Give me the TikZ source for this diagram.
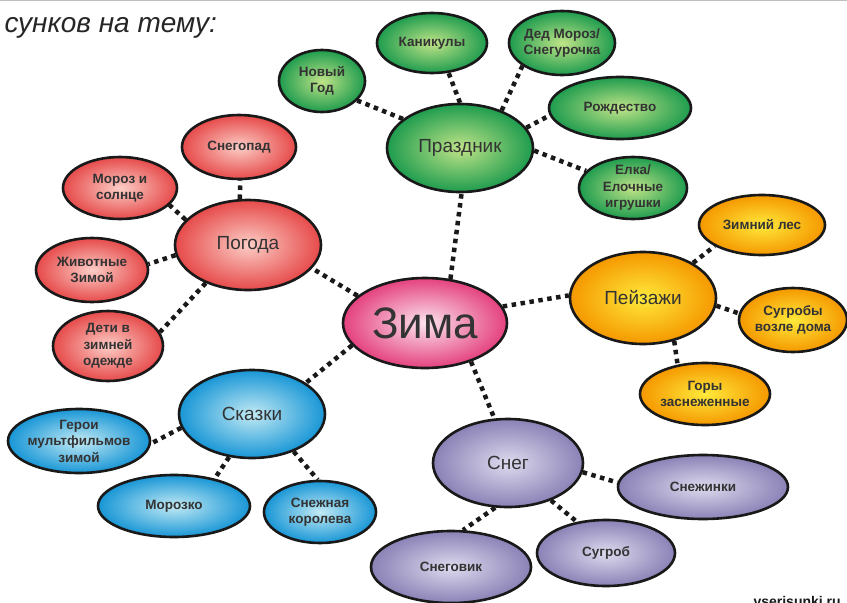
\documentclass[tikz,border=0pt]{standalone}
\usepackage{fontspec}
\setmainfont{Liberation Sans}
\usetikzlibrary{shapes.geometric}

\definecolor{zimaIn}{HTML}{FCE4EE}
\definecolor{zimaOut}{HTML}{E4417E}
\definecolor{holIn}{HTML}{C0E488}
\definecolor{holOut}{HTML}{1E9C4E}
\definecolor{wthIn}{HTML}{FCCDC6}
\definecolor{wthOut}{HTML}{E64A4A}
\definecolor{lndIn}{HTML}{FFE93A}
\definecolor{lndOut}{HTML}{F59800}
\definecolor{talIn}{HTML}{C2EAF4}
\definecolor{talOut}{HTML}{1896D6}
\definecolor{snwIn}{HTML}{DEDAEE}
\definecolor{snwOut}{HTML}{8A82B6}

\begin{document}
\begin{tikzpicture}[x=1pt,y=-1pt,
  bubble/.style={ellipse,draw=black!90,line width=2.6pt,inner sep=-12pt,
                 text=black!80,align=center,shade},
  hub/.style={bubble,font=\fontsize{19}{22}\selectfont},
  leaf/.style={bubble,font=\fontsize{13.5}{16.5}\selectfont\bfseries},
  winter/.style={inner color=zimaIn,outer color=zimaOut},
  holiday/.style={inner color=holIn,outer color=holOut},
  weather/.style={inner color=wthIn,outer color=wthOut},
  landscape/.style={inner color=lndIn,outer color=lndOut},
  tale/.style={inner color=talIn,outer color=talOut},
  snow/.style={inner color=snwIn,outer color=snwOut},
  link/.style={line width=4.5pt,dash pattern=on 4.5pt off 4.5pt,black!90}]

\fill[white] (0,0) rectangle (847,603);
\useasboundingbox (0,0) rectangle (847,603);
\draw[black!25,line width=1pt] (0,0.5) -- (847,0.5);

\node[anchor=base west,font=\fontsize{28}{30}\selectfont\itshape,text=black!85] (TITLE) at (1,32) {сунков на тему:};

% center
\node[bubble,winter,font=\fontsize{44}{48}\selectfont,minimum width=164pt,minimum height=90pt] (ZIMA) at (425,323) {Зима};

% holidays
\node[hub,holiday,minimum width=146pt,minimum height=88pt]  (PRAZD)    at (460,148) {Праздник};
\node[leaf,holiday,minimum width=86pt,minimum height=62pt]  (NEWYEAR)  at (322,81)  {Новый\\Год};
\node[leaf,holiday,minimum width=110pt,minimum height=60pt] (KANIK)    at (432,43)  {Каникулы};
\node[leaf,holiday,minimum width=106pt,minimum height=64pt] (DED)      at (562,43)  {Дед Мороз/\\Снегурочка};
\node[leaf,holiday,minimum width=142pt,minimum height=62pt] (ROZHD)    at (620,108) {Рождество};
\node[leaf,holiday,minimum width=108pt,minimum height=62pt] (ELKA)     at (633,188) {Елка/\\Елочные\\игрушки};

% weather
\node[hub,weather,minimum width=146pt,minimum height=90pt]  (POGODA)   at (248,245) {Погода};
\node[leaf,weather,minimum width=114pt,minimum height=64pt] (SNEGOPAD) at (239,147) {Снегопад};
\node[leaf,weather,minimum width=114pt,minimum height=62pt] (MOROZ)    at (120,188) {Мороз и\\солнце};
\node[leaf,weather,minimum width=112pt,minimum height=64pt] (ZHIV)     at (92,270)  {Животные\\Зимой};
\node[leaf,weather,minimum width=110pt,minimum height=70pt] (DETI)     at (108,346) {Дети в\\зимней\\одежде};

% landscapes
\node[hub,landscape,minimum width=146pt,minimum height=92pt]  (PEIZ)    at (643,298) {Пейзажи};
\node[leaf,landscape,minimum width=126pt,minimum height=60pt] (LES)     at (762,225) {Зимний лес};
\node[leaf,landscape,minimum width=108pt,minimum height=64pt] (SUGROBY) at (793,320) {Сугробы\\возле дома};
\node[leaf,landscape,minimum width=130pt,minimum height=62pt] (GORY)    at (705,394) {Горы\\заснеженные};

% tales
\node[hub,tale,minimum width=146pt,minimum height=88pt]  (SKAZKI)   at (252,414) {Сказки};
\node[leaf,tale,minimum width=142pt,minimum height=64pt] (GEROI)    at (79,441)  {Герои\\мультфильмов\\зимой};
\node[leaf,tale,minimum width=152pt,minimum height=62pt] (MOROZKO)  at (174,506) {Морозко};
\node[leaf,tale,minimum width=112pt,minimum height=62pt] (KOROLEVA) at (320,512) {Снежная\\королева};

% snow
\node[hub,snow,minimum width=150pt,minimum height=88pt]  (SNEG)     at (508,463) {Снег};
\node[leaf,snow,minimum width=170pt,minimum height=64pt] (SNEZH)    at (703,487) {Снежинки};
\node[leaf,snow,minimum width=138pt,minimum height=66pt] (SUGROB)   at (606,553) {Сугроб};
\node[leaf,snow,minimum width=160pt,minimum height=72pt] (SNEGOVIK) at (451,567) {Снеговик};

\node[anchor=base west,font=\fontsize{14}{14}\selectfont\bfseries,text=black!90] (WMARK) at (750,606) {vserisunki.ru};

\path[link] (ZIMA.60)     edge (PRAZD.-88)
            (ZIMA.158)    edge (POGODA.-20)
            (ZIMA.12)     edge (PEIZ.178)
            (ZIMA.197)    edge (SKAZKI.30)
            (ZIMA.-40)    edge (SNEG.107)
            (PRAZD.153)   edge (NEWYEAR.-29)
            (PRAZD.90)    edge (KANIK.-61)
            (PRAZD.42)    edge (DED.210)
            (PRAZD.17)    edge (ROZHD.186)
            (PRAZD.-2)    edge (ELKA.160)
            (POGODA.100)  edge (SNEGOPAD.-88)
            (POGODA.158)  edge (MOROZ.-19)
            (POGODA.188)  edge (ZHIV.6)
            (POGODA.222)  edge (DETI.15)
            (PEIZ.35)     edge (LES.204)
            (PEIZ.-6)     edge (SUGROBY.173)
            (PEIZ.-54)    edge (GORY.133)
            (SKAZKI.191)  edge (GEROI.-2)
            (SKAZKI.242)  edge (MOROZKO.34)
            (SKAZKI.-42)  edge (KOROLEVA.94)
            (SNEG.-7)     edge (SNEZH.177)
            (SNEG.-41)    edge (SUGROB.133)
            (SNEG.254)    edge (SNEGOVIK.72);
\end{tikzpicture}
\end{document}
